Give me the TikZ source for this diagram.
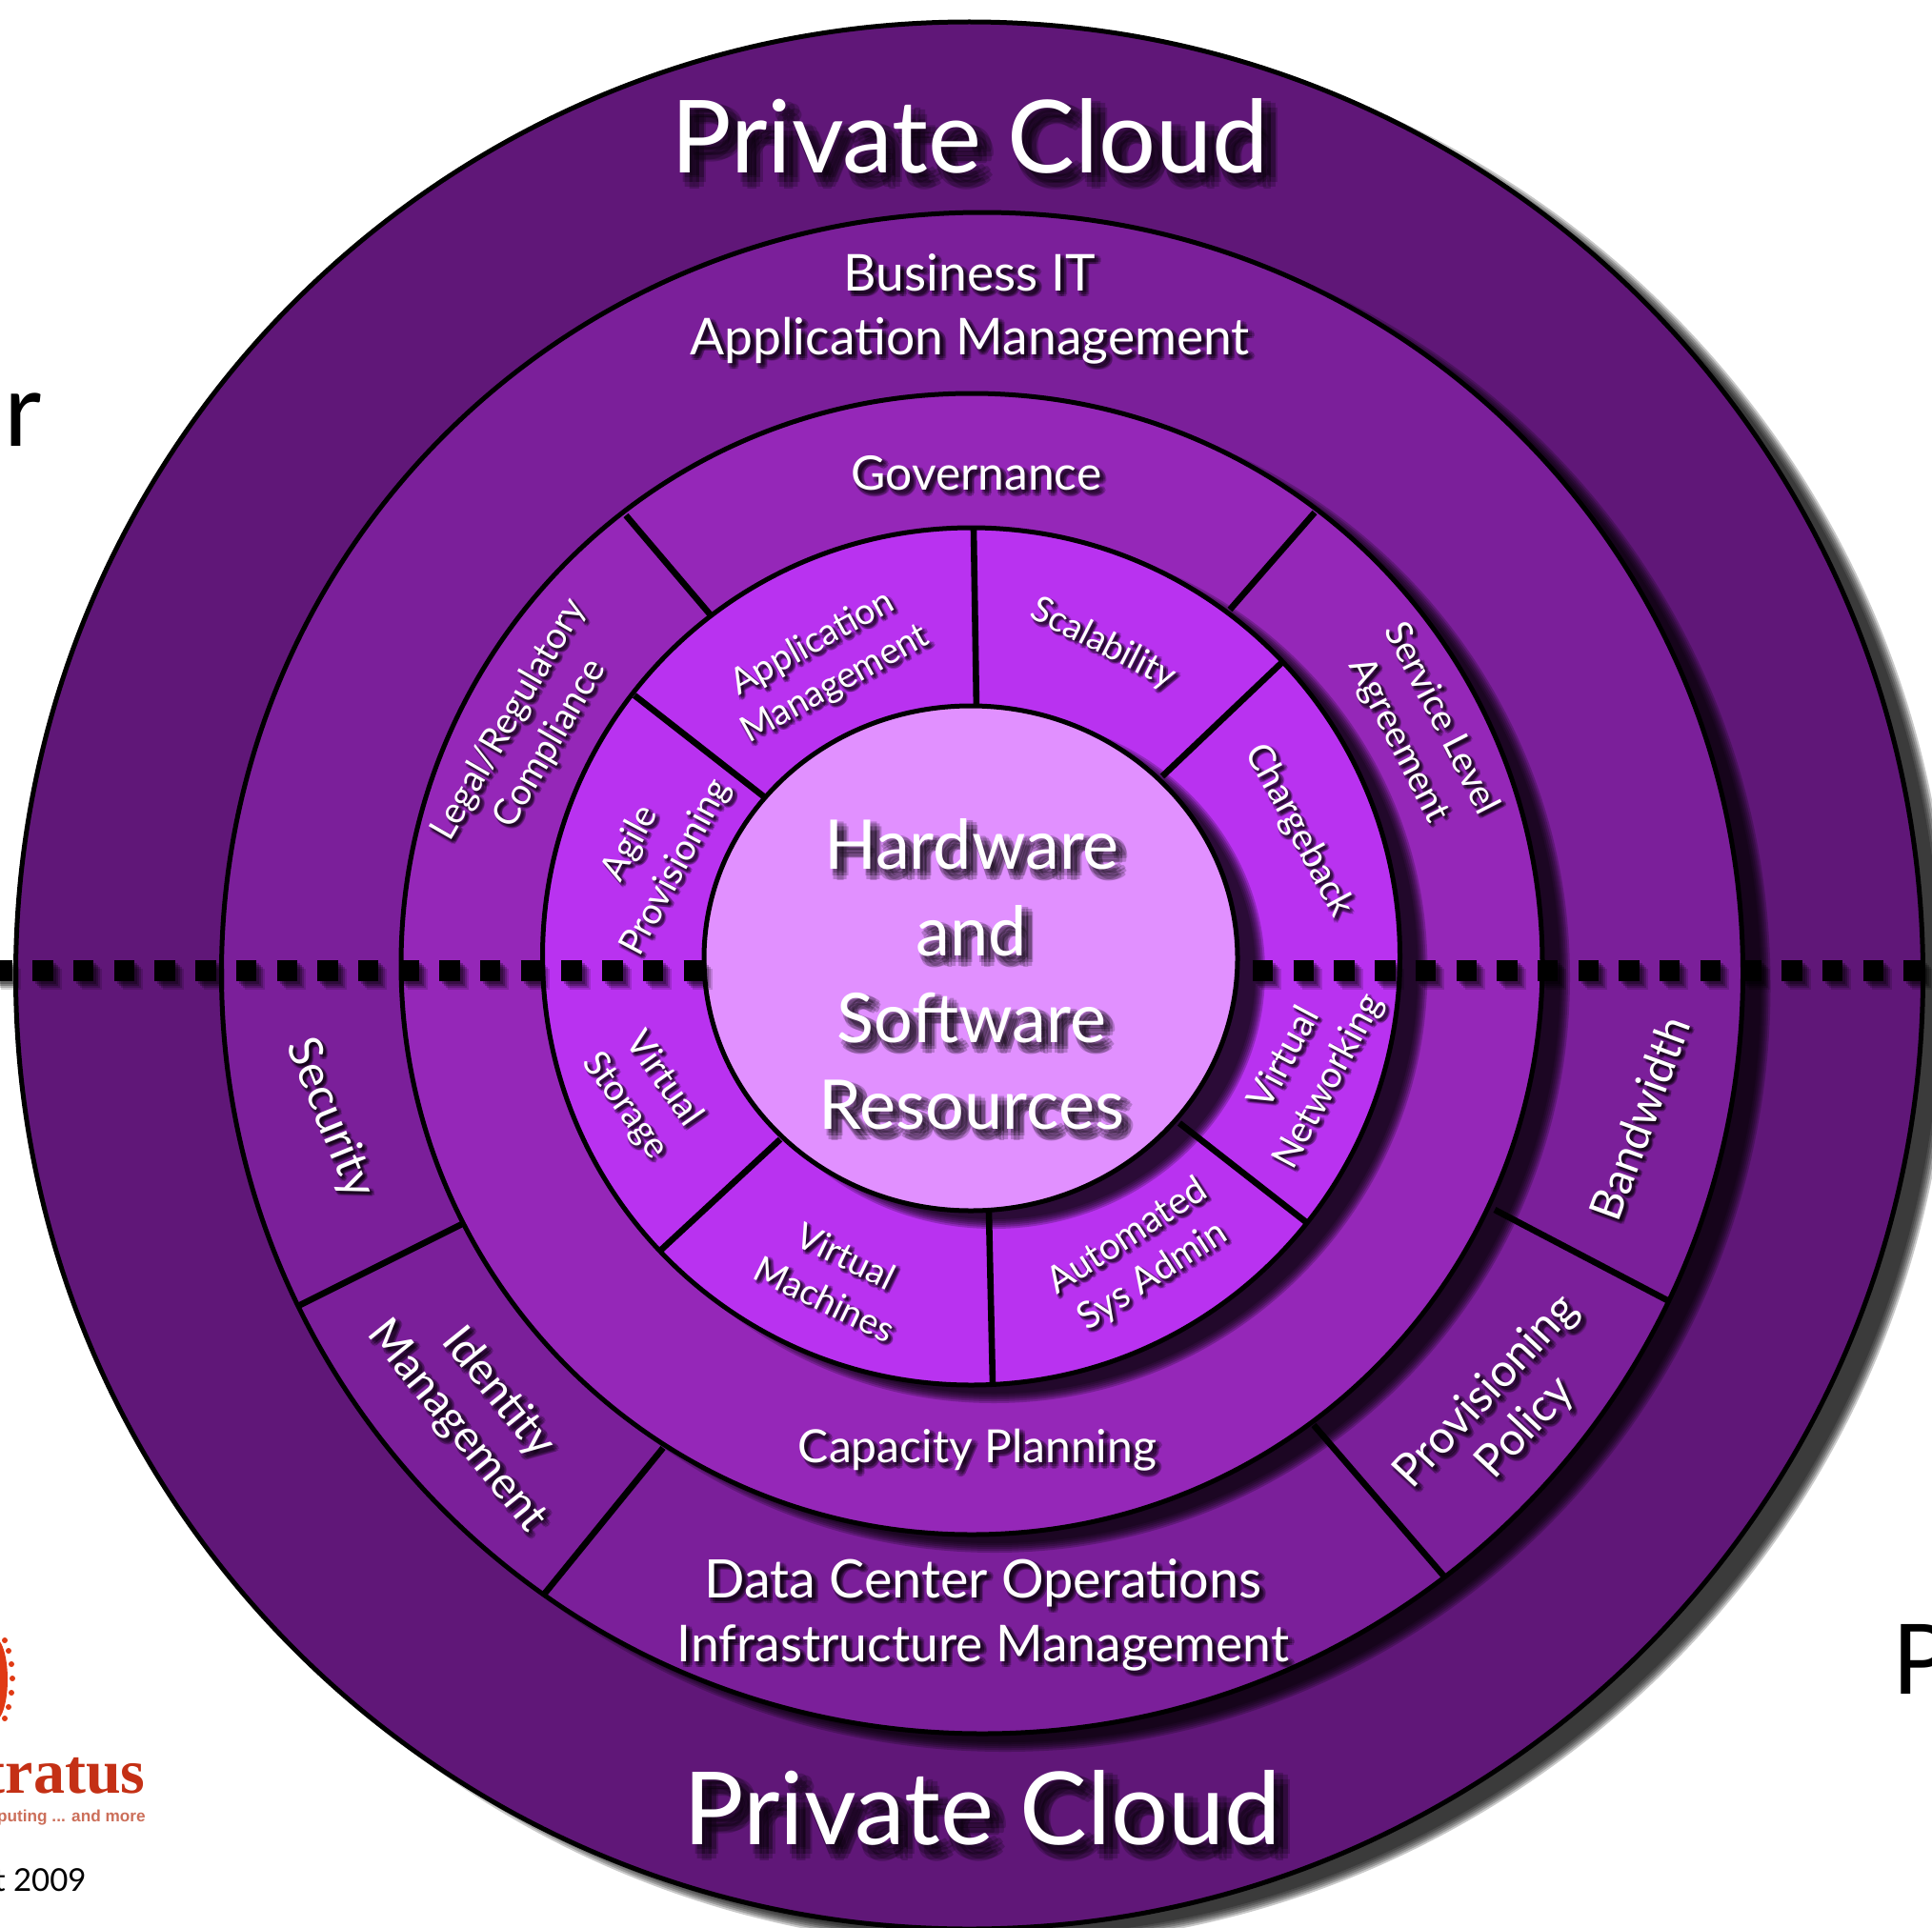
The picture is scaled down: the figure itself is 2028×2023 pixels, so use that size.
\documentclass[tikz,border=0pt]{standalone}
\usepackage{fontspec}
\setmainfont{Lato}
\newfontfamily\logofont{Liberation Serif}
\newfontfamily\tagfont{Liberation Sans}
\definecolor{ringA}{HTML}{601778}
\definecolor{ringB}{HTML}{7B1F9A}
\definecolor{ringC}{HTML}{9527B8}
\definecolor{ringD}{HTML}{B932F0}
\definecolor{ringE}{HTML}{E190FF}
\definecolor{logored}{HTML}{C43015}
\definecolor{logodot}{HTML}{E03A14}
\definecolor{logotag}{HTML}{CC6F5A}
\tikzset{
  ringline/.style={draw=black,line width=2.5pt},
  divider/.style={draw=black,line width=3.3pt},
  dashline/.style={line width=10.7pt,dash pattern=on 10.7pt off 10.65pt},
  lab/.style={inner sep=0pt,align=center,text=white},
}
% name, x, y, rotation, size, leading, shadow offset, text
\newcommand\lbl[8]{%
  \foreach \dx/\dy in {0/0,1/0,-1/0,0/1,0/-1,.7/.7,-.7/.7,.7/-.7,-.7/-.7}{%
    \node[lab,text=black,text opacity=.2,rotate=#4,font=\fontsize{#5}{#6}\selectfont]
      at ({#2+#7+\dx*#7*.7},{#3+#7+\dy*#7*.7}) {#8};}%
  \node[lab,rotate=#4,font=\fontsize{#5}{#6}\selectfont] (#1) at (#2,#3) {#8};}
% cx, cy, rx, ry
\newcommand\softshadow[4]{%
  \foreach \e in {-5,-3,-1,1,3,5}{%
    \fill[black,opacity=.21] ({#1+24},{#2+14}) ellipse [x radius={#3+\e},y radius={#4+\e}];}}
\begin{document}
\begin{tikzpicture}[x=.5pt,y=-.5pt]
\path[use as bounding box,clip] (0,0) rectangle (2028,2023);
\fill[white] (0,0) rectangle (2028,2023);
% outside fragments
\node[anchor=base west,inner sep=0pt,font=\fontsize{54}{60}\selectfont] (frL) at (4,468) {r};
\node[anchor=base west,inner sep=0pt,font=\fontsize{51}{60}\selectfont] (frR) at (1986,1778) {P};
\node[anchor=base east,inner sep=0pt,font=\fontsize{16.5}{20}\selectfont] (copy) at (91,1985) {t 2009};
\node[anchor=base east,inner sep=0pt,text=logored,font=\logofont\bfseries\fontsize{33}{36}\selectfont] (logoA) at (153,1882) {tratus};
\node[anchor=base east,inner sep=0pt,text=logotag,font=\tagfont\bfseries\fontsize{8.6}{10}\selectfont] (logoB) at (153,1912) {puting ... and more};
\fill[logodot] (-6,1763) ellipse [x radius=14,y radius=44];
\foreach \yy/\xx in {1722/5,1733/9,1747/12,1762/13,1777/12,1792/9,1804/5}{
  \fill[logodot] (\xx,\yy) circle [radius=3];}
% rings
\softshadow{1017.5}{1024}{1001}{1001}
\filldraw[fill=ringA,ringline] (1017.5,1024) circle [radius=1001];
\softshadow{1031}{1021.5}{798.5}{798.5}
\filldraw[fill=ringB,ringline] (1031,1021.5) circle [radius=798.5];
\draw[divider] (1569,1270) -- (1752,1366);
\draw[divider] (1379,1496) -- (1516,1655);
\draw[divider] (696,1520) -- (570,1675);
\draw[divider] (485,1285) -- (313,1371);
\softshadow{1020}{1012}{599}{599}
\filldraw[fill=ringC,ringline] (1020,1012) circle [radius=599];
\draw[divider] (657,541) -- (747,647);
\draw[divider] (1380,538) -- (1291,640);
\softshadow{1019.5}{1004}{450}{450}
\filldraw[fill=ringD,ringline] (1019.5,1004) circle [radius=450];
\draw[divider] (1022,556) -- (1025,745);
\draw[divider] (666,730) -- (804,838);
\draw[divider] (1345,696) -- (1220,815);
\draw[divider] (1238,1179) -- (1371,1283);
\draw[divider] (1038,1272) -- (1042,1453);
\draw[divider] (819,1196) -- (694,1312);
\softshadow{1019}{1006}{280}{265}
\filldraw[fill=ringE,ringline] (1019,1006) ellipse [x radius=280,y radius=265];
% dashed line
\coordinate (dashLa) at (-8.4,1019);
\coordinate (dashLb) at (739,1019);
\coordinate (dashRa) at (1315,1019);
\coordinate (dashRb) at (2020,1019);
\foreach \o/\p in {3/.25,5/.25,7/.2,9/.15}{
  \draw[dashline,black,opacity=\p] ([shift={(\o,\o)}]dashLa) -- ([shift={(\o,\o)}]dashLb);
  \draw[dashline,black,opacity=\p] ([shift={(\o,\o)}]dashRa) -- ([shift={(\o,\o)}]dashRb);}
\draw[dashline,black] (dashLa) -- (dashLb);
\draw[dashline,black] (dashRa) -- (dashRb);
% labels
\lbl{pcTop}{1018}{143}{0}{53}{60}{10}{Private Cloud}
\lbl{pcBot}{1031}{1898}{0}{53}{60}{10}{Private Cloud}
\lbl{biz}{1018}{324}{0}{26.7}{33.5}{4}{Business IT\\Application Management}
\lbl{gov}{1025}{497}{0}{24.9}{28}{4}{Governance}
\lbl{appm}{865}{697}{29}{19}{24.5}{3}{Application\\Management}
\lbl{scal}{1158}{676}{-27}{18.8}{24.5}{3}{Scalability}
\lbl{charge}{1363}{872}{-62}{19.3}{24.5}{3}{Chargeback}
\lbl{sla}{1490}{766}{-63}{19.3}{25}{3}{Service Level\\Agreement}
\lbl{vnet}{1372}{1123}{62}{19.5}{26}{3}{Virtual\\Networking}
\lbl{band}{1721}{1174}{70}{23.5}{26}{3}{Bandwidth}
\lbl{prov}{1581}{1480}{47}{24}{28}{4}{Provisioning\\Policy}
\lbl{data}{1032}{1695}{0}{27.4}{33.5}{4}{{\fontsize{27.9}{33.5}\selectfont Data Center Operations}\\{\fontsize{26.7}{33.5}\selectfont Infrastructure Management}}
\lbl{cap}{1026}{1522}{0}{24}{28}{4}{Capacity Planning}
\lbl{vm}{877}{1341}{-26}{18.8}{25}{3}{Virtual\\Machines}
\lbl{auto}{1197}{1319}{33}{19.5}{24.5}{3}{Automated\\Sys Admin}
\lbl{idm}{501}{1480}{-51}{23.4}{28}{4}{Identity\\Management}
\lbl{secu}{346}{1174}{-68}{24.5}{26}{3}{Security}
\lbl{vsto}{676}{1147}{-55}{19}{24.5}{3}{Virtual\\Storage}
\lbl{legal}{556}{768}{60}{19.2}{25}{3}{Legal/Regulatory\\Compliance}
\lbl{agile}{686}{898}{62}{19}{27}{3}{Agile\\Provisioning}
\lbl{core}{1020}{1023}{0}{36}{45.5}{7}{Hardware\\and\\Software\\Resources}
\end{tikzpicture}
\end{document}
